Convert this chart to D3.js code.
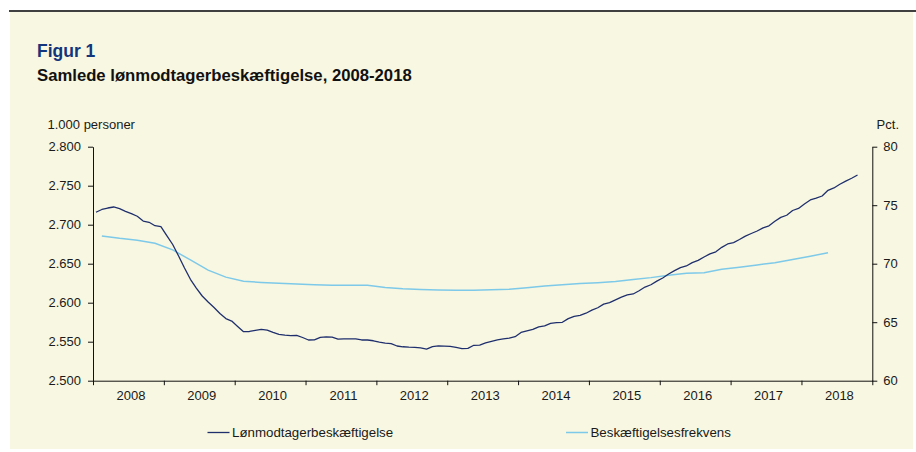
<!DOCTYPE html>
<html>
<head>
<meta charset="utf-8">
<script src="https://cdn.jsdelivr.net/npm/d3@7"></script>
<style>
  html, body { margin: 0; padding: 0; background: #ffffff; }
  svg { display: block; font-family: "Liberation Sans", Arial, sans-serif; }
</style>
</head>
<body>
<svg id="chart" width="916" height="452"></svg>
<script>
// ---------- DATA ----------
const title = "Figur 1";
const subtitle = "Samlede lønmodtagerbeskæftigelse, 2008-2018";
const leftUnit = "1.000 personer";
const rightUnit = "Pct.";
const years = ["2008","2009","2010","2011","2012","2013","2014","2015","2016","2017","2018"];
const leftTicks = [2500, 2550, 2600, 2650, 2700, 2750, 2800];
const rightTicks = [60, 65, 70, 75, 80];
const seriesNames = ["Lønmodtagerbeskæftigelse", "Beskæftigelsesfrekvens"];

// Monthly, Jan 2008 - Oct 2018 (1.000 personer)
const employment = [
  2716, 2719.5, 2721.4, 2722.7, 2720.5, 2717.2, 2714.1, 2710.8, 2704.7, 2703.1, 2698.7, 2697.6,
  2685.9, 2674.6, 2659.9, 2644.5, 2630, 2618.8, 2608.6, 2600.9, 2593.8, 2586.2, 2579.6, 2576.5,
  2569.5, 2562.8, 2563.1, 2564.6, 2565.9, 2564.9, 2561.9, 2559.4, 2558.3, 2557.8, 2558.2, 2555.4,
  2552.2, 2552.4, 2555.6, 2556.2, 2555.8, 2553.2, 2553.5, 2553.7, 2553.7, 2552.2, 2552.2, 2551.2,
  2549.4, 2548.1, 2547.6, 2544.5, 2543.5, 2543, 2542.7, 2542, 2540.5, 2543.7, 2544.6, 2544.2,
  2543.9, 2542.6, 2541.2, 2541.4, 2545.4, 2545.6, 2548.6, 2550.5, 2552.2, 2553.5, 2554.7, 2556.4,
  2561.8, 2564, 2565.9, 2569.1, 2570.4, 2573.6, 2574.4, 2574.9, 2579.6, 2582.6, 2583.8, 2586.5,
  2590.4, 2593.5, 2598.2, 2600, 2603.7, 2607.1, 2609.9, 2611.2, 2615.3, 2620.1, 2623, 2627.6,
  2631.7, 2636.8, 2641.2, 2645, 2647.1, 2651.3, 2654.2, 2658.6, 2662.6, 2665.3, 2671, 2675.3,
  2677.1, 2681, 2685.4, 2688.7, 2691.9, 2696, 2698.6, 2704.4, 2709.4, 2712.1, 2718.2, 2720.8,
  2726.5, 2731.7, 2734, 2736.8, 2744.1, 2747.1, 2751.8, 2755.8, 2759.5, 2763.7
];

// Quarterly, 2008Q1 - 2018Q2 (pct.)
const frequency = [
  72.37, 72.17, 72.01, 71.74, 71.18, 70.32, 69.45, 68.85,
  68.50, 68.40, 68.33, 68.26, 68.20, 68.15, 68.15, 68.15,
  67.97, 67.86, 67.80, 67.76, 67.73, 67.74, 67.77, 67.81,
  67.94, 68.09, 68.20, 68.31, 68.38, 68.48, 68.65, 68.81,
  69.01, 69.18, 69.23, 69.52, 69.69, 69.89, 70.09, 70.36,
  70.64, 70.94
];

// ---------- LAYOUT ----------
const svg = d3.select("#chart");
const plot = { left: 93, right: 872.3, top: 146.7, bottom: 380.7 };
const darkBlue = "#1f2f6e";
const lightBlue = "#7dc9e9";
const textColor = "#1a1a1a";
const fontSize = 13;

svg.append("rect").attr("x", 10).attr("y", 12).attr("width", 903).attr("height", 437)
  .attr("fill", "#f8f7e1");
svg.append("line").attr("x1", 9).attr("x2", 916).attr("y1", 11).attr("y2", 11)
  .attr("stroke", "#000").attr("stroke-width", 1.3);

svg.append("text").attr("x", 37).attr("y", 56.5).text(title)
  .attr("font-size", 17.5).attr("font-weight", "bold").attr("fill", "#13357c");
svg.append("text").attr("x", 37).attr("y", 81).text(subtitle)
  .attr("font-size", 16.7).attr("font-weight", "bold").attr("fill", "#111");

svg.append("text").attr("x", 47.5).attr("y", 128.5).text(leftUnit)
  .attr("font-size", fontSize).attr("fill", textColor);
svg.append("text").attr("x", 899).attr("y", 128.5).attr("text-anchor", "end").text(rightUnit)
  .attr("font-size", fontSize).attr("fill", textColor);

// ---------- SCALES ----------
const xMonth = d3.scaleLinear().domain([0, years.length * 12]).range([plot.left, plot.right]);
const xYear = d3.scaleBand().domain(years).range([plot.left, plot.right]);
const yLeft = d3.scaleLinear().domain([2500, 2800]).range([plot.bottom, plot.top]);
const yRight = d3.scaleLinear().domain([60, 80]).range([plot.bottom, plot.top]);

const daLocale = d3.formatLocale({ decimal: ",", thousands: ".", grouping: [3], currency: ["", " kr."] });
const fmtLeft = daLocale.format(",");

// ---------- AXES ----------
function styleAxis(g) {
  g.select(".domain").attr("stroke", "#111").attr("stroke-width", 1);
  g.selectAll(".tick line").attr("stroke", "#111").attr("stroke-width", 1);
  g.selectAll(".tick text").attr("font-size", fontSize).attr("fill", textColor)
    .attr("font-family", "'Liberation Sans', Arial, sans-serif");
}

const gLeft = svg.append("g").attr("transform", `translate(${plot.left},0)`)
  .call(d3.axisLeft(yLeft).tickValues(leftTicks).tickFormat(fmtLeft).tickSize(5).tickPadding(7).tickSizeOuter(0));
styleAxis(gLeft);

const gRight = svg.append("g").attr("transform", `translate(${plot.right},0)`)
  .call(d3.axisRight(yRight).tickValues(rightTicks).tickSize(5).tickPadding(6).tickSizeOuter(0));
styleAxis(gRight);

const gBottom = svg.append("g").attr("transform", `translate(0,${plot.bottom})`)
  .call(d3.axisBottom(xMonth).tickValues(d3.range(0, years.length * 12 + 1, 12))
    .tickFormat("").tickSize(4.5).tickSizeOuter(0));
styleAxis(gBottom);

const gYears = svg.append("g").attr("transform", `translate(2.5,${plot.bottom})`)
  .call(d3.axisBottom(xYear).tickSize(0).tickPadding(10));
gYears.select(".domain").remove();
styleAxis(gYears);

// ---------- LINES ----------
const lineEmp = d3.line()
  .x((d, i) => xMonth(i + 0.5))
  .y(d => yLeft(d));
const lineFreq = d3.line()
  .x((d, i) => xMonth(i * 3 + 1.5))
  .y(d => yRight(d));

svg.append("path").datum(frequency).attr("d", lineFreq)
  .attr("fill", "none").attr("stroke", lightBlue).attr("stroke-width", 1.5);
svg.append("path").datum(employment).attr("d", lineEmp)
  .attr("fill", "none").attr("stroke", darkBlue).attr("stroke-width", 1.3)
  .attr("stroke-linejoin", "round");

// ---------- LEGEND ----------
const legendItems = [
  { name: seriesNames[0], color: darkBlue, x: 207.5, w: 1.3 },
  { name: seriesNames[1], color: lightBlue, x: 566, w: 1.5 }
];
const lg = svg.append("g").selectAll("g").data(legendItems).join("g")
  .attr("transform", d => `translate(${d.x},432.5)`);
lg.append("line").attr("x1", 0).attr("x2", 22).attr("y1", 0).attr("y2", 0)
  .attr("stroke", d => d.color).attr("stroke-width", d => d.w);
lg.append("text").attr("x", 24.5).attr("y", 4.5).text(d => d.name)
  .attr("font-size", 13.3).attr("fill", textColor);
</script>
</body>
</html>
